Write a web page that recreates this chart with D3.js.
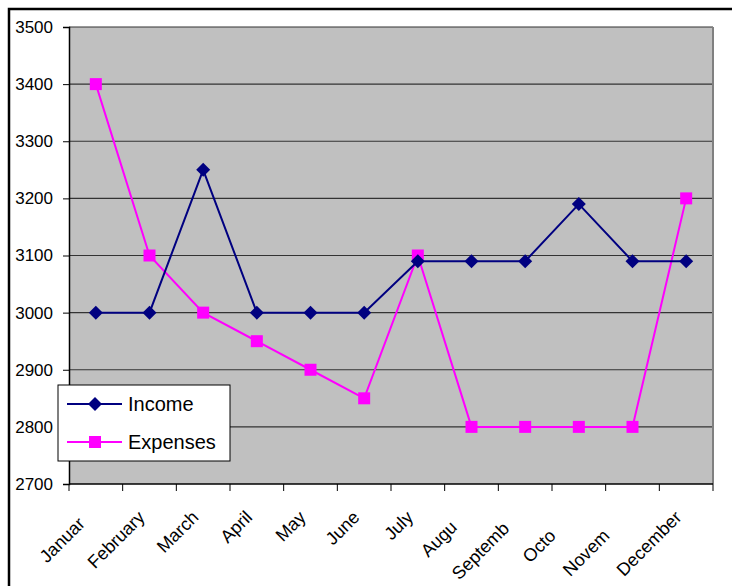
<!DOCTYPE html>
<html>
<head>
<meta charset="utf-8">
<script src="https://cdn.jsdelivr.net/npm/d3@7"></script>
<style>
  body { margin: 0; background: #fff; }
  svg { display: block; font-family: "Liberation Sans", Arial, sans-serif; }
</style>
</head>
<body>
<div id="chart"></div>
<script>
// chart data
const months = ["January", "February", "March", "April", "May", "June",
    "July", "August", "September", "October", "November", "December"];
// Excel clipped the long labels, keep them as they appear
const monthLabels = ["Januar", "February", "March", "April", "May", "June",
    "July", "Augu", "Septemb", "Octo", "Novem", "December"];
const income = [3000, 3000, 3250, 3000, 3000, 3000, 3090, 3090, 3090, 3190, 3090, 3090];
const expenses = [3400, 3100, 3000, 2950, 2900, 2850, 3100, 2800, 2800, 2800, 2800, 3200];
const yTicks = [2700, 2800, 2900, 3000, 3100, 3200, 3300, 3400, 3500];

const width = 732, height = 586;
const margin = {top: 27, right: 19, bottom: 102, left: 69};

const svg = d3.select("#chart").append("svg")
    .attr("width", width)
    .attr("height", height);

// outer chart frame (runs off the right/bottom edge)
svg.append("rect")
    .attr("x", 9).attr("y", 9)
    .attr("width", width + 20).attr("height", height + 20)
    .attr("fill", "none")
    .attr("stroke", "#000")
    .attr("stroke-width", 2.5);

const xScale = d3.scaleBand(months, [margin.left, width - margin.right]);
const yScale = d3.scaleLinear([2700, 3500], [height - margin.bottom, margin.top]);
const cx = d => xScale(d) + xScale.bandwidth() / 2;

// plot area
svg.append("rect")
    .attr("x", margin.left).attr("y", margin.top)
    .attr("width", width - margin.right - margin.left)
    .attr("height", height - margin.bottom - margin.top)
    .attr("fill", "#c0c0c0");

// horizontal grid lines
svg.append("g")
    .selectAll("line")
    .data(yTicks.slice(1))
    .join("line")
    .attr("x1", margin.left)
    .attr("x2", width - margin.right)
    .attr("y1", d => yScale(d))
    .attr("y2", d => yScale(d))
    .attr("stroke", "#333")
    .attr("stroke-width", 1.2);

// right edge of plot area
svg.append("line")
    .attr("x1", width - margin.right).attr("x2", width - margin.right)
    .attr("y1", margin.top).attr("y2", height - margin.bottom)
    .attr("stroke", "#808080")
    .attr("stroke-width", 2);

// y axis
const yAxis = d3.axisLeft(yScale)
    .tickValues(yTicks)
    .tickFormat(d3.format("d"))
    .tickSize(6)
    .tickPadding(10);
svg.append("g")
    .attr("transform", `translate(${margin.left},0)`)
    .call(yAxis)
    .call(g => g.select(".domain").attr("stroke", "#000").attr("stroke-width", 1.5))
    .call(g => g.selectAll(".tick line").attr("stroke", "#000"))
    .call(g => g.selectAll("text")
        .attr("font-family", "Liberation Sans, Arial, sans-serif")
        .attr("font-size", 17)
        .attr("fill", "#000"));

// x axis: ticks sit on the category boundaries
const xBounds = months.map(d => xScale(d)).concat([width - margin.right]);
const xAxisG = svg.append("g");
xAxisG.append("line")
    .attr("x1", margin.left).attr("x2", width - margin.right)
    .attr("y1", height - margin.bottom).attr("y2", height - margin.bottom)
    .attr("stroke", "#000")
    .attr("stroke-width", 1.5);
xAxisG.selectAll("line.tick")
    .data(xBounds)
    .join("line")
    .attr("class", "tick")
    .attr("x1", d => d).attr("x2", d => d)
    .attr("y1", height - margin.bottom)
    .attr("y2", height - margin.bottom + 7)
    .attr("stroke", "#000");

// rotated month labels: full name would end just left of the band centre,
// the clipped text starts where the full name would start
const labelFont = 18;
const measure = svg.append("text")
    .attr("font-size", labelFont)
    .attr("visibility", "hidden");
const fullLen = months.map(m => {
    measure.text(m);
    return measure.node().getComputedTextLength();
});
measure.remove();
const labelEndY = height - margin.bottom + 30;
const k = Math.SQRT1_2;
xAxisG.selectAll("text")
    .data(months)
    .join("text")
    .attr("transform", (d, i) => {
        const ex = cx(d) - 8, ey = labelEndY;
        return `translate(${ex - fullLen[i] * k},${ey + fullLen[i] * k}) rotate(-45)`;
    })
    .attr("font-size", labelFont)
    .attr("fill", "#000")
    .attr("dy", "0.35em")
    .text((d, i) => monthLabels[i]);

// series
const line = d3.line()
    .x((d, i) => cx(months[i]))
    .y(d => yScale(d));

const diamond = s => `M0,${-s}L${s},0L0,${s}L${-s},0Z`;

svg.append("path")
    .datum(expenses)
    .attr("d", line)
    .attr("fill", "none")
    .attr("stroke", "#ff00ff")
    .attr("stroke-width", 2);

svg.append("g")
    .selectAll("rect")
    .data(expenses)
    .join("rect")
    .attr("x", (d, i) => cx(months[i]) - 6)
    .attr("y", d => yScale(d) - 6)
    .attr("width", 12)
    .attr("height", 12)
    .attr("fill", "#ff00ff");

svg.append("path")
    .datum(income)
    .attr("d", line)
    .attr("fill", "none")
    .attr("stroke", "#000080")
    .attr("stroke-width", 2);

svg.append("g")
    .selectAll("path")
    .data(income)
    .join("path")
    .attr("transform", (d, i) => `translate(${cx(months[i])},${yScale(d)})`)
    .attr("d", diamond(7))
    .attr("fill", "#000080");

// legend
const legend = svg.append("g").attr("transform", "translate(58,385)");
legend.append("rect")
    .attr("width", 172).attr("height", 76)
    .attr("fill", "#fff")
    .attr("stroke", "#000")
    .attr("stroke-width", 1);

const legendItems = [
    {name: "Income", color: "#000080", marker: "diamond"},
    {name: "Expenses", color: "#ff00ff", marker: "square"}
];
const items = legend.selectAll("g.item")
    .data(legendItems)
    .join("g")
    .attr("class", "item")
    .attr("transform", (d, i) => `translate(0,${19 + i * 38})`);
items.append("line")
    .attr("x1", 9).attr("x2", 64)
    .attr("stroke", d => d.color)
    .attr("stroke-width", 2);
items.append("path")
    .attr("transform", "translate(37,0)")
    .attr("d", d => d.marker === "diamond" ? diamond(7) : "M-6,-6H6V6H-6Z")
    .attr("fill", d => d.color);
items.append("text")
    .attr("x", 70)
    .attr("dy", "0.35em")
    .attr("font-size", 20)
    .attr("fill", "#000")
    .text(d => d.name);
</script>
</body>
</html>
